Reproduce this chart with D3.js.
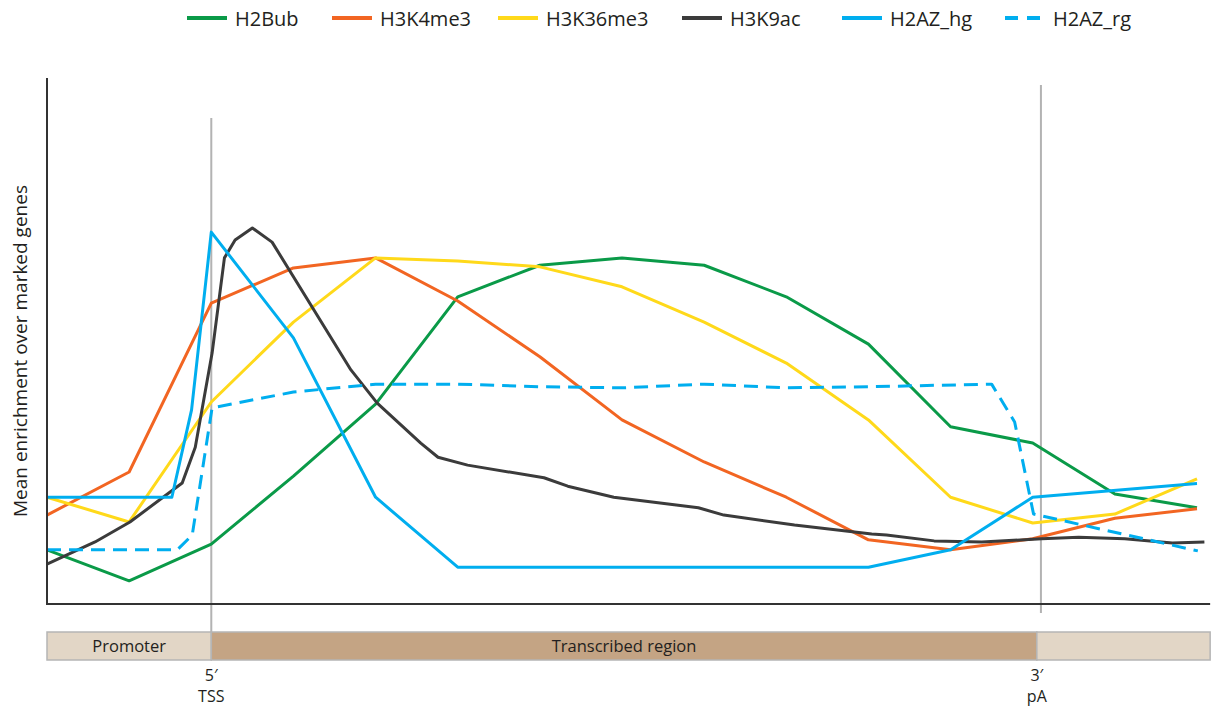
<!DOCTYPE html>
<html>
<head>
<meta charset="utf-8">
<script src="https://cdn.jsdelivr.net/npm/d3@7"></script>
<style>
  html, body { margin: 0; padding: 0; background: #fff; }
  svg { display: block; }
  text { font-family: "Open Sans", "Noto Sans", sans-serif; fill: #231f20; }
</style>
</head>
<body>
<svg id="chart" width="1212" height="707"></svg>
<script>
// Positions along the metagene (bin units; TSS at bin 2, polyA near bin 12.1)
const binPos = [0, 1, 2, 3, 4, 5, 6, 7, 8, 9, 10, 11, 12, 13, 14];

const h2bub   = [10.3, 4.4, 11.4, 24.3, 38.0, 58.4, 64.4, 65.8, 64.4, 58.4, 49.4, 33.7, 30.6, 20.9, 18.3];
const h3k4me3 = [16.9, 25.1, 57.2, 63.9, 65.8, 57.6, 47.0, 35.0, 27.0, 20.3, 12.2, 10.3, 12.4, 16.3, 18.1];
const h3k36me3 = [20.3, 15.6, 38.4, 53.6, 65.8, 65.2, 64.1, 60.3, 53.6, 45.8, 35.0, 20.3, 15.4, 17.1, 23.8];

const h3k9acPos = [0, 0.585, 1.01, 1.646, 1.805, 2.01, 2.16, 2.29, 2.5, 2.74, 3.70, 4.02, 4.55, 4.76, 5.12,
                   6.05, 6.34, 6.90, 7.93, 8.24, 9.10, 10.04, 10.22, 10.80, 11.38, 12.11, 12.56, 13.12, 13.70, 14.09];
const h3k9ac    = [7.6, 11.8, 15.6, 23.0, 29.8, 47.7, 65.8, 69.2, 71.5, 68.8, 44.5, 38.2, 30.6, 27.9, 26.4,
                   24.0, 22.4, 20.3, 18.3, 16.9, 15.0, 13.3, 13.1, 12.0, 11.8, 12.4, 12.7, 12.4, 11.6, 11.8];

const h2azHgPos = [0, 1.52, 1.76, 2, 3, 4, 5, 10, 11, 12, 14];
const h2azHg    = [20.3, 20.3, 36.9, 70.7, 50.6, 20.3, 7.0, 7.0, 10.3, 20.3, 22.9];

const h2azRgPos = [0, 1.585, 1.768, 2.01, 3, 4, 5, 6, 7, 8, 9, 10, 11.5, 11.78, 12.01, 14.01];
const h2azRg    = [10.3, 10.3, 13.1, 37.3, 40.3, 41.8, 41.8, 41.3, 41.1, 41.8, 41.1, 41.3, 41.8, 34.6, 17.1, 10.1];

const seriesNames = ["H2Bub", "H3K4me3", "H3K36me3", "H3K9ac", "H2AZ_hg", "H2AZ_rg"];
const seriesColors = ["#0a9a48", "#f26522", "#ffd91a", "#3b3b3b", "#00aeef", "#00aeef"];

// Gene model segments
const tssPos = 2, paPos = 12.1, barEndPos = 12.05, axisEnd = 14.16;
const regionNames = ["Promoter", "Transcribed region", ""];
const regionStarts = [0, 2, barEndPos];
const regionEnds = [2, barEndPos, axisEnd];
const regionColors = ["#e2d6c6", "#c4a484", "#e2d6c6"];

const svg = d3.select("#chart");
const x = d3.scaleLinear().domain([0, 14]).range([47, 1197]);
const y = d3.scaleLinear().domain([0, 100]).range([604, 78]);

const series = [
  { pos: binPos, val: h2bub },
  { pos: binPos, val: h3k4me3 },
  { pos: binPos, val: h3k36me3 },
  { pos: h3k9acPos, val: h3k9ac },
  { pos: h2azHgPos, val: h2azHg },
  { pos: h2azRgPos, val: h2azRg, dash: "14,8" }
];

// TSS and polyA guide lines
svg.append("line").attr("x1", x(tssPos)).attr("x2", x(tssPos))
  .attr("y1", 118).attr("y2", 632).attr("stroke", "#b3b3b3").attr("stroke-width", 2);
svg.append("line").attr("x1", x(paPos)).attr("x2", x(paPos))
  .attr("y1", 85).attr("y2", 613).attr("stroke", "#b3b3b3").attr("stroke-width", 2);

// Profiles
const line = d3.line().x(d => x(d[0])).y(d => y(d[1])).curve(d3.curveLinear);
series.forEach((s, i) => {
  svg.append("path")
    .datum(s.pos.map((p, k) => [p, s.val[k]]))
    .attr("fill", "none")
    .attr("stroke", seriesColors[i])
    .attr("stroke-width", 3)
    .attr("stroke-linejoin", "round")
    .attr("stroke-dasharray", s.dash || null)
    .attr("d", line);
});

// Axes (plain frame lines, no ticks)
svg.append("line").attr("x1", x(0)).attr("x2", x(0)).attr("y1", y(100)).attr("y2", y(0))
  .attr("stroke", "#333").attr("stroke-width", 2);
svg.append("line").attr("x1", x(0) - 1).attr("x2", x(axisEnd)).attr("y1", y(0)).attr("y2", y(0))
  .attr("stroke", "#333").attr("stroke-width", 2);

// Y axis title
svg.append("text")
  .attr("transform", `translate(27, ${(y(0) + y(100)) / 2 + 10}) rotate(-90)`)
  .attr("text-anchor", "middle")
  .attr("font-size", 19)
  .text("Mean enrichment over marked genes");

// Gene model bar
const bar = svg.append("g");
regionNames.forEach((name, i) => {
  bar.append("rect")
    .attr("x", x(regionStarts[i])).attr("y", 632)
    .attr("width", x(regionEnds[i]) - x(regionStarts[i])).attr("height", 28)
    .attr("fill", regionColors[i]).attr("stroke", "#b5b5b5").attr("stroke-width", 1.5);
  if (name) {
    bar.append("text")
      .attr("x", (x(regionStarts[i]) + x(regionEnds[i])) / 2).attr("y", 652)
      .attr("text-anchor", "middle").attr("font-size", 16.5)
      .text(name);
  }
});

// End labels
[[tssPos, "5\u2032", "TSS"], [barEndPos, "3\u2032", "pA"]].forEach(([p, a, b]) => {
  svg.append("text").attr("x", x(p)).attr("y", 681).attr("text-anchor", "middle")
    .attr("font-size", 16).text(a);
  svg.append("text").attr("x", x(p)).attr("y", 702).attr("text-anchor", "middle")
    .attr("font-size", 16).text(b);
});

// Legend
const legendX = [187, 332, 498, 682, 842, 1005];
seriesNames.forEach((name, i) => {
  const g = svg.append("g").attr("transform", `translate(${legendX[i]}, 18)`);
  g.append("line").attr("x1", 0).attr("x2", 40).attr("y1", 0).attr("y2", 0)
    .attr("stroke", seriesColors[i]).attr("stroke-width", 4)
    .attr("stroke-dasharray", series[i].dash ? "13,9" : null);
  g.append("text").attr("x", 48).attr("y", 8).attr("font-size", 20)
    .text(name);
});
</script>
</body>
</html>
